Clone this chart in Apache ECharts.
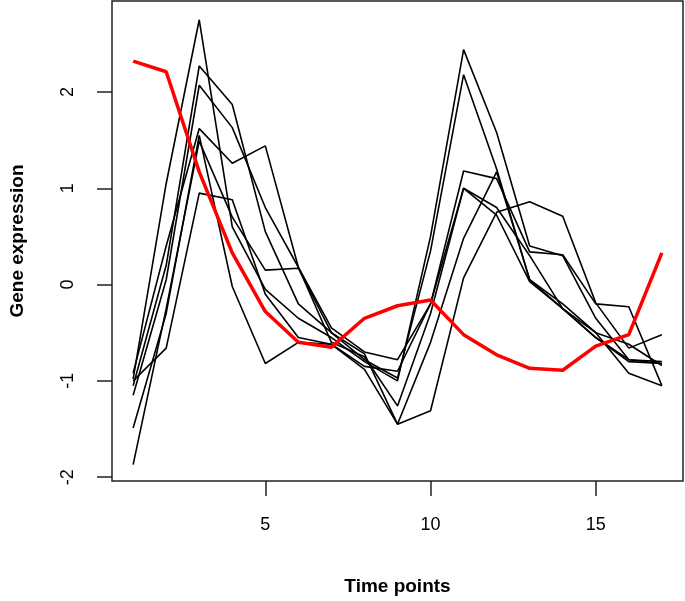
<!DOCTYPE html>
<html>
<head>
<meta charset="utf-8">
<script src="https://cdn.jsdelivr.net/npm/echarts@6/dist/echarts.min.js"></script>
<style>
html,body{margin:0;padding:0;background:#fff;}
#chart{width:685px;height:601px;}
</style>
</head>
<body>
<div id="chart"></div>
<script>
// Time points (x)
const timePoints = [1,2,3,4,5,6,7,8,9,10,11,12,13,14,15,16,17];
// Individual gene profiles (black)
const gene1 = [-0.98, 1.05, 2.75, 0.60, -0.05, -0.35, -0.55, -0.80, -1.00, 0.50, 2.44, 1.58, 0.40, 0.30, -0.35, -0.78, -0.82];
const gene2 = [-1.05, 0.20, 2.27, 1.87, 0.55, -0.20, -0.50, -0.78, -0.97, 0.35, 2.18, 1.20, 0.05, -0.25, -0.50, -0.62, -0.84];
const gene3 = [-1.15, 0.05, 2.07, 1.63, 0.80, 0.18, -0.45, -0.70, -0.78, -0.20, 1.18, 1.10, 0.34, 0.31, -0.20, -0.23, -1.05];
const gene4 = [-0.92, 0.40, 1.62, 1.26, 1.44, 0.18, -0.60, -0.75, -1.26, -0.30, 1.00, 0.72, 0.03, -0.25, -0.55, -0.78, -0.80];
const gene5 = [-1.49, -0.30, 1.55, -0.02, -0.82, -0.60, -0.62, -0.88, -1.45, -1.31, 0.07, 0.75, 0.86, 0.71, -0.19, -0.66, -0.52];
const gene6 = [-1.87, -0.25, 1.49, 0.70, 0.15, 0.17, -0.50, -0.72, -1.45, -0.60, 0.48, 1.17, 0.05, -0.20, -0.50, -0.92, -1.05];
const gene7 = [-1.00, -0.66, 0.95, 0.88, -0.10, -0.55, -0.62, -0.85, -0.90, -0.20, 1.00, 0.80, 0.30, -0.25, -0.55, -0.80, -0.82];
// Red profile
const redProfile = [2.32, 2.21, 1.17, 0.33, -0.28, -0.60, -0.65, -0.35, -0.22, -0.16, -0.52, -0.73, -0.87, -0.89, -0.64, -0.52, 0.33];
// Tick labels
const xTicks = [5, 10, 15];
const yTicks = [-2, -1, 0, 1, 2];

const genes = [gene1, gene2, gene3, gene4, gene5, gene6, gene7];
const toPairs = arr => timePoints.map((t, i) => [t, arr[i]]);

const FONT = '"Liberation Sans", Arial, Helvetica, sans-serif';
const chart = echarts.init(document.getElementById('chart'), null, {renderer: 'canvas'});

const series = genes.map((g, i) => ({
  name: 'gene' + (i + 1),
  type: 'line',
  data: toPairs(g),
  showSymbol: false,
  symbol: 'none',
  lineStyle: {color: '#000', width: 1.6},
  z: 2
}));
series.push({
  name: 'red',
  type: 'line',
  data: toPairs(redProfile),
  showSymbol: false,
  symbol: 'none',
  lineStyle: {color: '#ff0000', width: 3.5},
  z: 3
});

chart.setOption({
  animation: false,
  backgroundColor: '#fff',
  grid: {
    left: 112, top: 1, width: 571, height: 483,
    show: true, borderColor: '#222', borderWidth: 1.5, backgroundColor: 'transparent'
  },
  xAxis: {
    type: 'value',
    min: 0.36, max: 17.64,
    name: 'Time points',
    nameLocation: 'middle',
    nameGap: 96,
    nameTextStyle: {fontFamily: FONT, fontSize: 19, fontWeight: 'bold', color: '#000'},
    axisLine: {show: false, onZero: false},
    splitLine: {show: false},
    axisTick: {show: true, customValues: xTicks, length: 15, inside: false, lineStyle: {color: '#222', width: 1.5}},
    axisLabel: {customValues: xTicks, margin: 35, fontFamily: FONT, fontSize: 18, color: '#000'}
  },
  yAxis: {
    type: 'value',
    min: -2.04, max: 2.945,
    name: 'Gene expression',
    nameLocation: 'middle',
    nameRotate: 90,
    nameGap: 85,
    nameTextStyle: {fontFamily: FONT, fontSize: 19, fontWeight: 'bold', color: '#000'},
    axisLine: {show: false, onZero: false},
    splitLine: {show: false},
    axisTick: {show: true, customValues: yTicks, length: 15, inside: false, lineStyle: {color: '#222', width: 1.5}},
    axisLabel: {customValues: yTicks, rotate: 90, margin: 35, fontFamily: FONT, fontSize: 18, color: '#000',
      formatter: v => String(v)}
  },
  series: series
});
</script>
</body>
</html>
